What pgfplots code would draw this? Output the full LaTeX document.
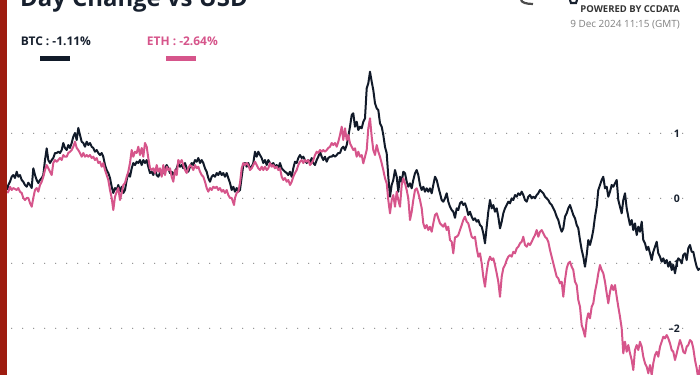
\documentclass[border=0pt]{standalone}
\usepackage{pgfplots}
\pgfplotsset{compat=1.18}
\usepackage{fontspec}
\setmainfont{Open Sans}
\definecolor{btc}{HTML}{111A29}
\definecolor{eth}{HTML}{D6558B}
\definecolor{redbar}{HTML}{9E1C10}
\definecolor{gridc}{HTML}{8C8C8C}
\definecolor{navy}{HTML}{17202E}
\begin{document}
\begin{tikzpicture}
\useasboundingbox (0,0) rectangle (700bp,375bp);
\clip (0,0) rectangle (700bp,375bp);
\begin{axis}[at={(0,0)}, anchor=south west, scale only axis,
  width=700bp, height=375bp, xmin=0, xmax=700, ymin=-2.718, ymax=3.051,
  axis lines=none, ticks=none, clip=true]
\foreach \v in {1,0,-1,-2} {
  \edef\tmp{\noexpand\draw[gridc, line width=1.3bp, line cap=round, dash pattern=on 0pt off 11bp] (axis cs:11.7,\v) -- (axis cs:684,\v);}
  \tmp
}
\node[anchor=east, inner sep=0, text=navy, font=\bfseries\fontsize{10.5}{10.5}\selectfont] at (axis cs:680,1) {1};
\node[anchor=east, inner sep=0, text=navy, font=\bfseries\fontsize{10.5}{10.5}\selectfont] at (axis cs:680,0) {0};
\node[anchor=east, inner sep=0, text=navy, font=\bfseries\fontsize{10.5}{10.5}\selectfont] at (axis cs:680,-1) {–1};
\node[anchor=east, inner sep=0, text=navy, font=\bfseries\fontsize{10.5}{10.5}\selectfont] at (axis cs:680,-2) {–2};
% BTC
\addplot[btc, line width=2bp, line join=round, no markers] coordinates {
(7.3,0.128)(8.3,0.205)(10,0.255)(11.7,0.332)(13.3,0.358)(15,0.312)(16.7,0.409)(18.3,0.332)(20,0.358)(21.7,0.282)(23.3,0.255)(25,0.205)(26.7,0.178)(28.3,0.240)(30,0.205)(31.7,0.158)(33.3,0.462)(35,0.358)(36.7,0.282)(38.3,0.235)(40,0.282)(41.7,0.312)(43.3,0.358)(45,0.589)(46.7,0.769)(48.3,0.589)(50,0.543)(51.7,0.589)(53.3,0.620)(55,0.697)(56.7,0.697)(58.3,0.717)(60,0.697)(61.7,0.743)(63.3,0.851)(65,0.774)(66.7,0.743)(68.3,0.820)(70,0.774)(71.7,0.851)(73.3,0.948)(75,1.005)(76.7,0.897)(78.3,1.082)(80,0.974)(81.7,0.871)(83.3,0.851)(85,0.794)(86.7,0.871)(88.3,0.820)(90,0.851)(91.7,0.794)(93.3,0.774)(95,0.717)(96.7,0.743)(98.3,0.697)(100,0.666)(101.7,0.697)(103.3,0.640)(105,0.512)(106.7,0.435)(108.3,0.389)(110,0.312)(111.7,0.178)(113.3,0.082)(115,0.158)
(116.7,0.128)(118.3,0.205)(120,0.102)(121.7,0.178)(123.3,0.082)(125,0.128)(126.7,0.282)(128.3,0.389)(130,0.332)(131.7,0.462)(133.3,0.543)(135,0.512)(136.7,0.563)(138.3,0.543)(140,0.589)(141.7,0.512)(143.3,0.589)(145,0.543)(146.7,0.589)(148.3,0.486)(150,0.389)(151.7,0.409)(153.3,0.358)(155,0.435)(156.7,0.358)(158.3,0.332)(160,0.389)(161.7,0.358)(163.3,0.409)(165,0.462)(166.7,0.512)(168.3,0.462)(170,0.389)(171.7,0.409)(173.3,0.358)(175,0.409)(176.7,0.462)(178.3,0.543)(180,0.486)(181.7,0.512)(183.3,0.462)(185,0.543)(186.7,0.462)(188.3,0.409)(190,0.486)(191.7,0.543)(193.3,0.512)(195,0.589)(196.7,0.563)(198.3,0.620)(200,0.543)(201.7,0.589)(203.3,0.543)(205,0.462)(206.7,0.409)(208.3,0.312)(210,0.255)(211.7,0.332)(213.3,0.358)(215,0.332)(216.7,0.389)(218.3,0.358)(220,0.409)(221.7,0.358)(223.3,0.389)(225,0.332)(226.7,0.389)(228.3,0.312)(230,0.235)
(231.7,0.128)(233.3,0.178)(235,0.102)(236.7,0.158)(238.3,0.102)(240,0.128)(241.7,0.332)(243.3,0.512)(245,0.543)(246.7,0.486)(248.3,0.543)(250,0.462)(251.7,0.486)(253.3,0.543)(255,0.717)(256.7,0.640)(258.3,0.717)(260,0.666)(261.7,0.620)(263.3,0.543)(265,0.589)(266.7,0.512)(268.3,0.589)(270,0.543)(271.7,0.512)(273.3,0.543)(275,0.486)(276.7,0.512)(278.3,0.462)(280,0.543)(281.7,0.462)(283.3,0.435)(285,0.409)(286.7,0.389)(288.3,0.358)(290,0.409)(291.7,0.332)(293.3,0.462)(295,0.563)(296.7,0.543)(298.3,0.620)(300,0.666)(301.7,0.620)(303.3,0.640)(305,0.589)(306.7,0.543)(308.3,0.589)(310,0.543)(311.7,0.620)(313.3,0.543)(315,0.512)(316.7,0.589)(318.3,0.640)(320,0.717)(321.7,0.640)(323.3,0.589)(325,0.640)(326.7,0.563)(328.3,0.620)(330,0.640)(331.7,0.640)(333.3,0.666)(335,0.640)(336.7,0.666)(338.3,0.697)(340,0.697)
(341.7,0.769)(343.3,0.794)(345,0.743)(346.7,0.820)(348.3,0.948)(350,1.102)(351.7,1.282)(353.3,1.308)(355,1.102)(356.7,1.178)(358.3,1.051)(360,1.102)(361.7,1.077)(363.3,1.178)(365,1.231)(366.7,1.692)(368.3,1.769)(370,1.948)(371.7,1.794)(373.3,1.666)(375,1.462)(376.7,1.385)(378.3,1.358)(380,1.154)(381.7,1.102)(383.3,0.974)(385,0.794)(386.7,0.692)(388.3,0.332)(390,0.025)(391.7,0.205)(393.3,0.282)(395,0.435)(396.7,0.332)(398.3,0.102)(400,0.332)(401.7,0.255)(403.3,0.409)(405,0.385)(406.7,0.255)(408.3,0.178)(410,0.231)(411.7,0.154)(413.3,0.282)(415,0.385)(416.7,0.435)(418.3,0.358)(420,0.205)(421.7,0.128)(423.3,0.178)(425,0.102)(426.7,0.154)(428.3,0.102)(430,0.154)(431.7,0.077)(433.3,0.205)(435,0.332)(436.7,0.282)(438.3,0.178)(440,0.077)(441.7,-0.026)(443.3,-0.052)(445,0)(446.7,0.077)(448.3,-0.052)(450,-0.129)(451.7,-0.180)(453.3,-0.206)(455,-0.300)
(456.7,-0.154)(458.3,-0.180)(460,-0.077)(461.7,-0.052)(463.3,-0.103)(465,-0.077)(466.7,-0.154)(468.3,-0.257)(470,-0.206)(471.7,-0.283)(473.3,-0.334)(475,-0.308)(476.7,-0.360)(478.3,-0.334)(480,-0.411)(481.7,-0.437)(483.3,-0.538)(485,-0.692)(486.7,-0.437)(488.3,-0.206)(490,-0.026)(491.7,-0.154)(493.3,-0.103)(495,-0.206)(496.7,-0.154)(498.3,-0.283)(500,-0.462)(501.7,-0.360)(503.3,-0.231)(505,-0.154)(506.7,-0.103)(508.3,-0.052)(510,-0.077)(511.7,0)(513.3,-0.026)(515,0.051)(516.7,0.025)(518.3,0.077)(520,0.051)(521.7,0.102)(523.3,0.051)(525,-0.026)(526.7,-0.052)(528.3,0.025)(530,0.051)(531.7,0)(533.3,0.025)(535,0)(536.7,0.051)(538.3,0.077)(540,0.128)(541.7,0.102)(543.3,0.077)(545,0.025)(546.7,0)(548.3,-0.026)(550,-0.077)(551.7,-0.103)(553.3,-0.154)(555,-0.206)(556.7,-0.283)(558.3,-0.334)(560,-0.437)(561.7,-0.514)(563.3,-0.462)(565,-0.283)(566.7,-0.231)(568.3,-0.154)(570,-0.103)
(571.7,-0.180)(573.3,-0.257)(575,-0.308)(576.7,-0.411)(578.3,-0.462)(580,-0.642)(581.7,-0.795)(583.3,-0.898)(585,-1.052)(586.7,-0.872)(588.3,-0.642)(590,-0.718)(591.7,-0.615)(593.3,-0.488)(595,-0.283)(596.7,-0.129)(598.3,0.128)(600,0.205)(601.7,0.282)(603.3,0.332)(605,0.154)(606.7,0.178)(608.3,0.025)(610,0.102)(611.7,0.205)(613.3,0.178)(615,0.231)(616.7,0.282)(618.3,-0.026)(620,-0.129)(621.7,-0.231)(623.3,-0.026)(625,0.077)(626.7,-0.154)(628.3,-0.283)(630,-0.411)(631.7,-0.334)(633.3,-0.488)(635,-0.385)(636.7,-0.565)(638.3,-0.437)(640,-0.514)(641.7,-0.360)(643.3,-0.642)(645,-0.692)(646.7,-0.795)(648.3,-0.745)(650,-0.846)(651.7,-0.949)(653.3,-0.822)(655,-0.745)(656.7,-0.668)(658.3,-0.846)(660,-0.898)(661.7,-0.975)(663.3,-0.923)(665,-1.000)(666.7,-0.949)(668.3,-1.052)(670,-0.975)(671.7,-1.103)(673.3,-1.026)(675,-1.154)(676.7,-1.000)(678.3,-0.923)(680,-0.949)(681.7,-1.000)(683.3,-0.872)(685,-0.846)(686.7,-0.949)(688.3,-0.769)(690,-0.718)(691.7,-0.822)(693.3,-0.822)(695,-0.949)(696.7,-1.052)(698.3,-1.103)(700,-1.077)
};
% ETH
\addplot[eth, line width=2bp, line join=round, no markers] coordinates {
(7.3,0.082)(8.3,0.102)(10,0.178)(11.7,0.128)(13.3,0.158)(16.7,0.128)(18.3,0.158)(20,0.102)(21.7,0.082)(23.3,0.005)(25,-0.026)(26.7,0.005)(28.3,0.005)(30,-0.072)(31.7,-0.129)(33.3,0.005)(35,0.128)(36.7,0.158)(38.3,0.102)(40,0.205)(41.7,0.255)(43.3,0.332)(45,0.435)(46.7,0.512)(48.3,0.462)(50,0.409)(51.7,0.358)(53.3,0.543)(55,0.589)(56.7,0.563)(58.3,0.589)(60,0.620)(61.7,0.589)(63.3,0.666)(65,0.640)(66.7,0.640)(68.3,0.697)(70,0.717)(71.7,0.743)(73.3,0.794)(75,0.871)(76.7,0.774)(78.3,0.743)(80,0.697)(81.7,0.640)(83.3,0.697)(85,0.640)(86.7,0.666)(88.3,0.640)(90,0.666)(91.7,0.620)(93.3,0.640)(95,0.589)(96.7,0.620)(98.3,0.543)(100,0.563)(101.7,0.486)(103.3,0.543)(105,0.435)(106.7,0.358)(108.3,0.282)(110,0.128)(111.7,0.005)(113.3,-0.180)(115,0.025)
(116.7,0.102)(118.3,0.158)(120,-0.026)(121.7,0.082)(123.3,0.205)(125,0.235)(126.7,0.332)(128.3,0.409)(130,0.543)(131.7,0.743)(133.3,0.640)(135,0.717)(136.7,0.697)(138.3,0.794)(140,0.666)(141.7,0.774)(143.3,0.640)(145,0.851)(146.7,0.794)(148.3,0.620)(150,0.462)(151.7,0.435)(153.3,0.462)(155,0.389)(156.7,0.512)(158.3,0.409)(160,0.462)(161.7,0.332)(163.3,0.512)(165,0.358)(166.7,0.486)(168.3,0.435)(170,0.462)(171.7,0.332)(173.3,0.255)(175,0.435)(176.7,0.358)(178.3,0.589)(180,0.543)(181.7,0.589)(183.3,0.512)(185,0.435)(186.7,0.389)(188.3,0.462)(190,0.512)(191.7,0.486)(193.3,0.435)(195,0.512)(196.7,0.462)(198.3,0.486)(200,0.409)(201.7,0.358)(203.3,0.332)(205,0.255)(206.7,0.158)(208.3,0.102)(210,0.158)(211.7,0.128)(213.3,0.178)(215,0.158)(216.7,0.178)(218.3,0.128)(220,0.158)(221.7,0.102)(223.3,0.128)(225,0.082)(226.7,0.128)(228.3,0.051)(230,0.005)
(231.7,0.005)(233.3,-0.072)(234,-0.103)(235,0.005)(236.7,0.082)(238.3,0.102)(240,0.235)(241.7,0.462)(243.3,0.543)(245,0.512)(246.7,0.543)(248.3,0.512)(250,0.435)(251.7,0.462)(253.3,0.512)(255,0.563)(256.7,0.512)(258.3,0.462)(260,0.435)(261.7,0.486)(263.3,0.435)(265,0.486)(266.7,0.435)(268.3,0.462)(270,0.543)(271.7,0.486)(273.3,0.512)(275,0.462)(276.7,0.486)(278.3,0.435)(280,0.462)(281.7,0.332)(283.3,0.282)(285,0.312)(286.7,0.255)(288.3,0.282)(290,0.205)(291.7,0.255)(293.3,0.332)(295,0.389)(296.7,0.435)(298.3,0.512)(300,0.563)(301.7,0.589)(303.3,0.543)(305,0.589)(306.7,0.563)(308.3,0.589)(310,0.512)(311.7,0.543)(313.3,0.589)(315,0.666)(316.7,0.717)(318.3,0.697)(320,0.743)(321.7,0.717)(323.3,0.743)(325,0.717)(326.7,0.743)(328.3,0.774)(330,0.794)(331.7,0.851)(333.3,0.820)(335,0.851)(336.7,0.794)(338.3,0.871)(340,0.974)
(341.7,1.102)(343.3,0.897)(345,1.077)(346.7,0.897)(348.3,0.974)(350,0.846)(351.7,0.794)(353.3,0.743)(355,0.769)(356.7,0.640)(358.3,0.717)(360,0.640)(361.7,0.666)(363.3,0.538)(365,0.640)(366.7,0.743)(368.3,1.077)(370,1.231)(371.7,0.948)(373.3,0.743)(375,0.666)(376.7,0.820)(378.3,0.717)(380,0.640)(381.7,0.538)(383.3,0.435)(385,0.308)(386.7,0.231)(388.3,-0.026)(390,-0.231)(391.7,-0.026)(393.3,0.051)(395,-0.129)(396.7,0.102)(398.3,-0.026)(400,-0.129)(401.7,0.205)(403.3,0.308)(405,0.231)(406.7,0.128)(408.3,0)(410,-0.334)(411.7,-0.206)(413.3,-0.026)(415,0.128)(416.7,0.154)(418.3,0.077)(420,-0.026)(421.7,-0.154)(423.3,-0.385)(425,-0.462)(426.7,-0.411)(428.3,-0.488)(430,-0.437)(431.7,-0.514)(433.3,-0.385)(435,-0.257)(436.7,-0.231)(438.3,-0.308)(440,-0.385)(441.7,-0.411)(443.3,-0.437)(445,-0.385)(446.7,-0.488)(448.3,-0.437)(450,-0.642)(451.7,-0.668)(453.3,-0.846)(455,-0.600)
(456.7,-0.591)(458.3,-0.565)(460,-0.488)(461.7,-0.411)(463.3,-0.334)(465,-0.283)(466.7,-0.360)(468.3,-0.385)(470,-0.488)(471.7,-0.591)(473.3,-0.615)(475,-0.591)(476.7,-0.769)(478.3,-0.898)(480,-0.846)(481.7,-1.000)(483.3,-1.206)(485,-1.360)(486.7,-1.129)(488.3,-0.975)(490,-0.898)(491.7,-0.949)(493.3,-0.923)(495,-1.026)(496.7,-1.154)(498.3,-1.283)(500,-1.514)(501.7,-1.206)(503.3,-1.077)(505,-1.026)(506.7,-0.949)(508.3,-0.898)(510,-0.872)(511.7,-0.898)(513.3,-0.822)(515,-0.846)(516.7,-0.769)(518.3,-0.745)(520,-0.692)(521.7,-0.668)(523.3,-0.591)(525,-0.718)(526.7,-0.745)(528.3,-0.692)(530,-0.718)(531.7,-0.668)(533.3,-0.615)(535,-0.565)(536.7,-0.488)(538.3,-0.591)(540,-0.514)(541.7,-0.488)(543.3,-0.538)(545,-0.591)(546.7,-0.615)(548.3,-0.668)(550,-0.795)(551.7,-0.898)(553.3,-1.000)(555,-1.103)(556.7,-1.206)(558.3,-1.231)(560,-1.308)(561.7,-1.283)(563.3,-1.514)(565,-1.257)(566.7,-1.077)(568.3,-1.000)(570,-0.975)
(571.7,-1.052)(573.3,-1.103)(575,-1.283)(576.7,-1.334)(578.3,-1.565)(580,-1.668)(581.7,-1.949)(583.3,-2.026)(585,-2.129)(586.7,-1.872)(588.3,-1.769)(590,-1.846)(591.7,-1.668)(593.3,-1.615)(595,-1.437)(596.7,-1.308)(598.3,-1.154)(600,-1.026)(601.7,-1.103)(603.3,-1.154)(605,-1.283)(606.7,-1.462)(608.3,-1.615)(610,-1.437)(611.7,-1.334)(613.3,-1.411)(615,-1.334)(616.7,-1.514)(618.3,-1.668)(620,-1.822)(621.7,-2.000)(623.3,-2.385)(625,-2.206)(626.7,-2.360)(628.3,-2.257)(630,-2.385)(631.7,-2.488)(633.3,-2.642)(635,-2.334)(636.7,-2.257)(638.3,-2.334)(640,-2.206)(641.7,-2.283)(643.3,-2.437)(645,-2.538)(646.7,-2.591)(648.3,-2.692)(650,-2.565)(651.7,-2.718)(653.3,-2.538)(655,-2.411)(656.7,-2.360)(658.3,-2.437)(660,-2.283)(661.7,-2.206)(663.3,-2.129)(665,-2.154)(666.7,-2.103)(668.3,-2.154)(670,-2.231)(671.7,-2.334)(673.3,-2.360)(675,-2.488)(676.7,-2.385)(678.3,-2.283)(680,-2.180)(681.7,-2.257)(683.3,-2.360)(685,-2.385)(686.7,-2.283)(688.3,-2.257)(690,-2.180)(691.7,-2.206)(693.3,-2.308)(695,-2.488)(696.7,-2.615)(698.3,-2.780)(700,-2.565)
};
\end{axis}
\begin{scope}[x=1bp, y=-1bp, shift={(0bp,375bp)}]
\fill[redbar] (0,0) rectangle (7.3,375);
\node[anchor=base west, inner sep=0, text=navy, font=\bfseries\fontsize{24}{24}\selectfont] at (20,7) {Day Change vs USD};
\node[anchor=base west, inner sep=0, text=navy, font=\bfseries\fontsize{12}{12}\selectfont] at (20.7,45.7) {BTC : -1.11\%};
\node[anchor=base west, inner sep=0, text=eth, font=\bfseries\fontsize{12}{12}\selectfont] at (146.7,45.7) {ETH : -2.64\%};
\fill[btc] (40,56) rectangle (70,61.3);
\fill[eth] (166,56) rectangle (196,61.3);
\node[anchor=base east, inner sep=0, text=black!80, font=\bfseries\fontsize{9.5}{9.5}\selectfont] at (680,13) {POWERED BY CCDATA};
\node[anchor=base east, inner sep=0, text=black!50, font=\fontsize{10}{10}\selectfont] at (680,27.3) {9 Dec 2024 11:15 (GMT)};
\draw[line width=2.2bp, black!70] (521,0) .. controls (522,2.5) and (526,4) .. (533,4);
\draw[line width=2.2bp, navy] (570,0) -- (571,3) -- (576,3) -- (577,0);
\end{scope}
\end{tikzpicture}
\end{document}
